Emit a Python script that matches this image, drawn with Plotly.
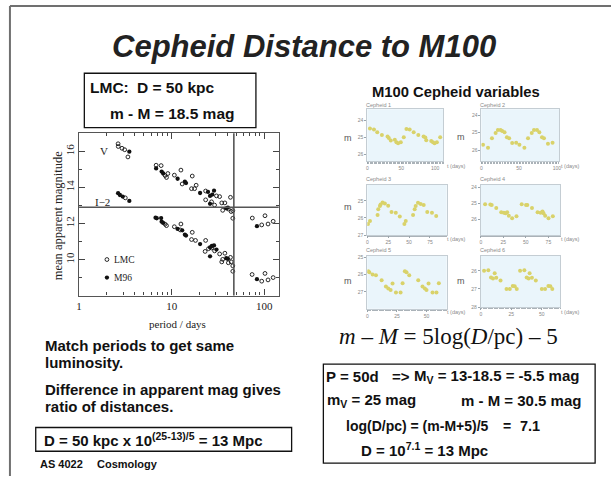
import plotly.graph_objects as go

W, H = 613, 479

def px(x):
    return x / W

def py(y):
    return 1 - y / H

# ---------------- Main P-L data (period in days, mean apparent magnitude) ----------------
lmc_v_period = [2.64, 2.65, 2.91, 3.11, 3.37,
                6.8, 7.7, 8.5, 8.8, 9.1, 10.7, 12.6, 13.0, 16.7, 16.4, 17.7, 18.4, 23.3, 23.3,
                27.0, 29.1, 30.5, 33.0, 34.8, 35.6, 37.6, 41.0, 43.2, 44.0, 45.8, 45.8,
                74.4, 94.0, 102.0, 110.0, 125.0]
lmc_v_mag = [16.42, 16.27, 16.17, 16.09, 15.69,
             15.23, 15.21, 14.66, 14.55, 14.77, 14.68, 14.96, 14.19, 14.63, 13.93, 13.93, 14.12, 13.80, 13.31,
             13.20, 13.02, 13.53, 13.49, 13.14, 12.73, 13.14, 12.80, 13.45, 12.66, 12.71, 12.29,
             12.30, 11.92, 12.43, 11.97, 12.12]
m96_v_period = [3.49, 6.8, 7.8, 8.1, 11.6, 13.9, 14.3, 20.3, 24.7, 26.0, 27.5, 28.7, 26.0, 38.9, 40.5, 83.5]
m96_v_mag = [15.98, 15.05, 14.88, 14.77, 14.48, 14.32, 14.24, 13.69, 13.75, 13.53, 13.60, 13.82, 13.09, 12.84, 12.88, 11.85]

lmc_i_period = [3.16,
                8.5, 8.8, 10.7, 12.6, 12.4, 16.7, 16.4, 18.1, 23.3, 23.0, 25.0, 27.0, 29.1, 33.0,
                34.8, 35.6, 37.6, 41.0, 43.2, 44.0, 45.8, 45.8,
                74.0, 94.0, 102.0, 110.0, 125.0]
lmc_i_mag = [13.42,
             11.96, 11.88, 11.82, 11.97, 11.64, 11.51, 11.11, 11.06, 11.06, 10.45, 10.60, 10.64, 10.48, 10.31,
             9.87, 10.01, 10.35, 9.82, 10.12, 9.87, 9.65, 9.35,
             9.17, 8.80, 9.23, 8.87, 9.00]
m96_i_period = [2.64, 2.76, 2.96, 3.49,
                6.7, 6.9, 7.7, 7.8, 8.1, 11.6, 13.0, 13.9, 14.3, 20.3, 26.0, 27.2, 28.7, 26.0, 30.5,
                38.9, 40.5, 83.5]
m96_i_mag = [13.68, 13.58, 13.49, 13.25,
             12.32, 12.29, 12.30, 12.10, 12.03, 11.70, 11.62, 11.38, 11.33, 10.86, 10.67, 10.75, 10.78, 10.18, 10.55,
             10.07, 10.04, 8.91]

divider_mag = 12.9
divider_period = 47
x_ticks = [1, 10, 100]
x_minor = [2, 3, 4, 5, 6, 7, 8, 9, 20, 30, 40, 50, 60, 70, 80, 90]
y_ticks = [10, 12, 14, 16]

# ---------------- M100 Cepheid light curves (t in days, m) ----------------
c1_t = [3.9, 9.8, 14.6, 21.5, 29.8, 31.7, 34.6, 40.5, 42.9, 45.4, 49.3, 53.7, 57.6, 62.4, 68.3,
        75.1, 82.9, 85.4, 86.8, 94.1, 96.6, 99.0, 102.4, 107.3]
c1_m = [24.48, 24.55, 24.70, 24.86, 24.95, 25.03, 25.18, 25.14, 25.28, 25.33, 25.28, 24.99, 24.51, 24.55, 24.70,
        24.86, 24.95, 25.01, 25.16, 25.20, 25.28, 25.33, 25.28, 24.99]
c2_t = [2.2, 8.8, 14.0, 18.9, 21.9, 25.4, 27.6, 30.7, 33.8, 36.8, 40.8, 46.1, 50.4, 57.0, 61.8, 66.7,
        69.7, 73.7, 76.8, 80.3, 82.9, 88.2, 94.3]
c2_m = [25.70, 25.87, 25.32, 25.02, 24.85, 24.85, 24.91, 24.98, 25.26, 25.32, 25.60, 25.58, 25.70, 25.87, 25.32, 25.02,
        24.85, 24.85, 24.98, 25.26, 25.32, 25.64, 25.58]
c3_t = [0.8, 3.2, 12.3, 13.1, 15.1, 15.9, 18.3, 21.0, 25.0, 29.0, 34.1, 38.9, 44.4, 46.0, 54.8, 56.7,
        57.9, 60.7, 63.9, 67.5, 71.8, 77.4, 82.5]
c3_m = [26.36, 26.18, 25.83, 25.50, 25.31, 25.21, 25.10, 25.16, 25.29, 25.66, 25.70, 25.91, 26.36, 26.18, 25.83, 25.50,
        25.31, 25.12, 25.19, 25.25, 25.66, 25.70, 25.89]
c4_t = [4.8, 10.6, 12.1, 17.2, 22.7, 25.6, 27.5, 29.3, 31.1, 34.8, 39.6, 45.4, 50.2, 51.6, 56.8, 63.0,
        66.3, 68.5, 69.6, 71.4, 75.1, 79.9]
c4_m = [25.04, 25.06, 25.08, 25.28, 25.53, 25.57, 25.60, 25.53, 25.75, 25.91, 25.79, 25.04, 25.08, 25.08, 25.28, 25.53,
        25.57, 25.49, 25.60, 25.75, 25.91, 25.79]
c5_t = [0.8, 1.7, 4.5, 7.3, 12.1, 15.7, 17.7, 19.7, 21.3, 24.2, 28.1, 29.8, 31.7, 33.1, 35.4, 43.0,
        46.6, 48.6, 50.0, 51.7, 55.1, 58.4, 60.4]
c5_m = [25.80, 25.85, 25.99, 26.03, 26.32, 26.69, 26.81, 26.90, 26.51, 27.04, 27.04, 26.50, 25.80, 25.85, 26.03, 26.32,
        26.69, 26.81, 26.90, 26.51, 27.04, 27.04, 26.50]
c6_t = [2.7, 6.2, 8.4, 10.0, 11.4, 12.7, 16.2, 21.1, 23.8, 26.2, 27.8, 29.5, 32.2, 35.7, 37.6, 39.2,
        40.0, 41.9, 45.1, 50.0, 52.7, 55.4, 57.0, 58.6]
c6_m = [26.00, 25.97, 26.37, 26.42, 26.13, 26.38, 26.53, 27.00, 27.00, 26.83, 26.85, 27.00, 26.00, 25.97, 26.37, 26.42,
        26.13, 26.38, 26.53, 27.00, 27.00, 26.83, 26.85, 27.00]

fig = go.Figure()

OPEN = dict(symbol="circle-open", size=3.8, color="#111", line=dict(width=0.9))
FILL = dict(symbol="circle", size=4.3, color="#111")

# main chart traces
fig.add_trace(go.Scatter(x=lmc_v_period, y=lmc_v_mag, mode="markers", xaxis="x", yaxis="y",
                         marker=OPEN, showlegend=False, hoverinfo="skip"))
fig.add_trace(go.Scatter(x=lmc_i_period, y=lmc_i_mag, mode="markers", xaxis="x", yaxis="y",
                         marker=OPEN, showlegend=False, hoverinfo="skip"))
fig.add_trace(go.Scatter(x=m96_v_period, y=m96_v_mag, mode="markers", xaxis="x", yaxis="y",
                         marker=FILL, showlegend=False, hoverinfo="skip"))
fig.add_trace(go.Scatter(x=m96_i_period, y=m96_i_mag, mode="markers", xaxis="x", yaxis="y",
                         marker=FILL, showlegend=False, hoverinfo="skip"))
# legend markers
fig.add_trace(go.Scatter(x=[2.0], y=[10.0], mode="markers", xaxis="x", yaxis="y",
                         marker=OPEN, showlegend=False, hoverinfo="skip"))
fig.add_trace(go.Scatter(x=[2.0], y=[9.0], mode="markers", xaxis="x", yaxis="y",
                         marker=FILL, showlegend=False, hoverinfo="skip"))

# small panels
panels = [
    (c1_t, c1_m, [367.3, 444.0], [108.3, 161.0], [0, 112], [26.38, 23.37], [0, 50, 100], [24, 25, 26]),
    (c2_t, c2_m, [482.3, 560.7], [108.3, 161.0], [0, 103], [26.64, 23.66], [0, 50, 100], [24, 25, 26]),
    (c3_t, c3_m, [367.3, 447.3], [185.0, 235.5], [0, 95], [27.0, 24.08], [0, 25, 50, 75], [25, 26, 27]),
    (c4_t, c4_m, [481.7, 561.7], [185.0, 235.5], [0, 88], [26.95, 23.85], [0, 25, 50, 75], [24, 25, 26]),
    (c5_t, c5_m, [367.3, 447.3], [256.7, 310.0], [0, 67], [28.0, 24.9], [0, 25, 50], [25, 26, 27]),
    (c6_t, c6_m, [481.7, 561.7], [256.7, 308.3], [0, 65], [28.0, 25.18], [0, 25, 50], [26, 27, 28]),
]

layout_axes = {}
for i, (t, m, xr, yr, xrange_, yrange_, xt, yt) in enumerate(panels):
    n = i + 2
    fig.add_trace(go.Scatter(x=t, y=m, mode="markers", xaxis=f"x{n}", yaxis=f"y{n}",
                             marker=dict(symbol="circle", size=4, color="#d9d26a"),
                             showlegend=False, hoverinfo="skip"))
    layout_axes[f"xaxis{n}"] = dict(domain=[px(xr[0]), px(xr[1])], anchor=f"y{n}", range=xrange_,
                                    tickvals=xt, ticks="outside", ticklen=2, tickwidth=0.6,
                                    tickcolor="#9aa4ab", showline=True, linecolor="#c4cdd3", linewidth=0.8,
                                    mirror=True, showgrid=False, zeroline=False,
                                    tickfont=dict(size=5, color="#888", family="Liberation Sans"),
                                    minor=dict(ticks="outside", ticklen=1.5, tickcolor="#aab2b8", nticks=20))
    layout_axes[f"yaxis{n}"] = dict(domain=[py(yr[1]), py(yr[0])], anchor=f"x{n}", range=yrange_,
                                    tickvals=yt, ticks="outside", ticklen=2, tickwidth=0.6,
                                    tickcolor="#9aa4ab", showline=True, linecolor="#c4cdd3", linewidth=0.8,
                                    mirror=True, showgrid=False, zeroline=False,
                                    tickfont=dict(size=5, color="#888", family="Liberation Sans"))

shapes = []
# slide frame
shapes.append(dict(type="line", xref="paper", yref="paper", x0=px(7), x1=1, y0=py(4), y1=py(4),
                   line=dict(color="#707070", width=2)))
shapes.append(dict(type="line", xref="paper", yref="paper", x0=px(7), x1=px(7), y0=py(4), y1=0,
                   line=dict(color="#707070", width=2)))
# panel backgrounds
for i, p in enumerate(panels):
    xr, yr = p[2], p[3]
    shapes.append(dict(type="rect", xref="paper", yref="paper", layer="below",
                       x0=px(xr[0]), x1=px(xr[1]), y0=py(yr[1]), y1=py(yr[0]),
                       fillcolor="#eaf5fb", line=dict(width=0)))
# divider lines in main chart
shapes.append(dict(type="line", xref="x domain", yref="y", x0=0, x1=1, y0=divider_mag, y1=divider_mag,
                   line=dict(color="#555", width=1.6)))
shapes.append(dict(type="line", xref="x", yref="y domain", x0=divider_period, x1=divider_period, y0=0, y1=1,
                   line=dict(color="#555", width=1.6)))
# text boxes
def box(x0, y0, x1, y1):
    shapes.append(dict(type="rect", xref="paper", yref="paper", x0=px(x0), x1=px(x1), y0=py(y1), y1=py(y0),
                       line=dict(color="#111", width=1.3)))

box(82, 72, 255, 127)
box(33, 430, 291, 454)
box(323, 366, 597, 466)

ann = []
SANS = "Liberation Sans"
SERIF = "Liberation Serif"

def text(x, y, s, size=13, family=SANS, color="#111", xanchor="left", angle=0):
    if xanchor == "left":
        x = x - 2
    ann.append(dict(x=px(x), y=py(y), xref="paper", yref="paper", text=s, showarrow=False,
                    xanchor=xanchor, yanchor="middle", textangle=angle, borderpad=0,
                    font=dict(size=size, family=family, color=color)))

BODY = 15
BOXF = 15

text(303, 45, "<b><i>Cepheid Distance to M100</i></b>", size=31, color="#222", xanchor="center")
text(89, 86, "<b>LMC:</b>", size=15.5)
text(136, 86, "<b>D = 50 kpc</b>", size=15.5)
text(170, 113, "<b>m - M = 18.5 mag</b>", size=15.5, xanchor="center")

text(55, 216, "mean apparent magnitude", size=12.5, family=SERIF, color="#222", xanchor="center", angle=-90)
text(176, 325, "period / days", size=11, family=SERIF, color="#222", xanchor="center")

text(43, 347, "<b>Match periods to get same</b>", size=BODY)
text(43, 364, "<b>luminosity.</b>", size=BODY)
text(43, 392, "<b>Difference in apparent mag gives</b>", size=BODY)
text(43, 409, "<b>ratio of distances.</b>", size=BODY)
text(42, 442, "<b>D = 50 kpc x 10<sup>(25-13)/5</sup> = 13 Mpc</b>", size=BODY)
text(38, 467, "<b>AS 4022</b>", size=11)
text(96, 467, "<b>Cosmology</b>", size=11)

text(457, 91, "<b>M100 Cepheid variables</b>", size=14.8, xanchor="center")
text(449, 338, "<i>m</i> \u2013 <i>M</i> = 5log(<i>D</i>/pc) \u2013 5", size=23, family=SERIF, xanchor="center")

text(327, 378, "<b>P = 50d</b>", size=BOXF)
text(393, 378, "<b>=></b>", size=BOXF)
text(415, 378, "<b>M<sub>V</sub> = 13-18.5 = -5.5 mag</b>", size=BOXF)
text(328, 403, "<b>m<sub>V</sub> = 25 mag</b>", size=BOXF)
text(463, 403, "<b>m - M = 30.5 mag</b>", size=BOXF)
text(347, 428, "<b>log(D/pc) = (m-M+5)/5</b>", size=14)
text(505, 428, "<b>=</b>", size=14)
text(522, 428, "<b>7.1</b>", size=14.5)
text(362, 452, "<b>D = 10<sup>7.1</sup> = 13 Mpc</b>", size=BOXF)

# main chart in-plot labels (data coords)
ann.append(dict(x=0.274, y=16.0, xref="x", yref="y", text="V", showarrow=False,
                font=dict(size=11, family=SERIF, color="#222")))
ann.append(dict(x=0.25, y=13.2, xref="x", yref="y", text="I\u22122", showarrow=False,
                font=dict(size=11, family=SERIF, color="#222")))
ann.append(dict(x=0.36, y=10.0, xref="x", yref="y", text="LMC", showarrow=False, xanchor="left",
                font=dict(size=9.5, family=SERIF, color="#222")))
ann.append(dict(x=0.36, y=9.0, xref="x", yref="y", text="M96", showarrow=False, xanchor="left",
                font=dict(size=9.5, family=SERIF, color="#222")))

# small panel labels
tiny = "#8a8a8a"
for (tx, ty, s) in [(367, 104, "Cepheid 1"), (482, 104, "Cepheid 2"), (367, 179, "Cepheid 3"),
                    (482, 179, "Cepheid 4"), (367, 251, "Cepheid 5"), (482, 251, "Cepheid 6")]:
    text(tx, ty, s, size=5.5, color=tiny)
for (tx, ty) in [(449, 165.7), (564, 165.7), (449, 240), (564, 240), (449, 313), (564, 313)]:
    text(tx, ty, "t (days)", size=5.5, color=tiny)
for (tx, ty) in [(348, 137), (462, 136), (348, 207), (348, 282), (462, 282)]:
    text(tx, ty, "m", size=9, color="#555", xanchor="center")

fig.update_layout(
    width=W, height=H, margin=dict(l=0, r=0, t=0, b=0),
    paper_bgcolor="white", plot_bgcolor="rgba(0,0,0,0)",
    showlegend=False,
    xaxis=dict(domain=[px(76.7), px(278)], anchor="y", type="log", range=[0, 2.157],
               tickvals=x_ticks, ticktext=[str(v) for v in x_ticks], ticks="inside", ticklen=6,
               tickcolor="#444", showline=True, linecolor="#555", linewidth=1.3, mirror="allticks",
               showgrid=False, zeroline=False,
               tickfont=dict(size=11, family=SERIF, color="#222"),
               minor=dict(ticks="inside", ticklen=3, tickcolor="#444", tickvals=x_minor)),
    yaxis=dict(domain=[py(296.7), py(132.7)], anchor="x", range=[8, 17],
               tickvals=y_ticks, ticks="inside", ticklen=6, tickangle=-90,
               tickcolor="#444", showline=True, linecolor="#555", linewidth=1.3, mirror="allticks",
               showgrid=False, zeroline=False,
               tickfont=dict(size=11, family=SERIF, color="#222"),
               minor=dict(ticks="inside", ticklen=3, tickcolor="#444", dtick=1)),
    shapes=shapes, annotations=ann,
    **layout_axes,
)

fig.write_html("out.html")
